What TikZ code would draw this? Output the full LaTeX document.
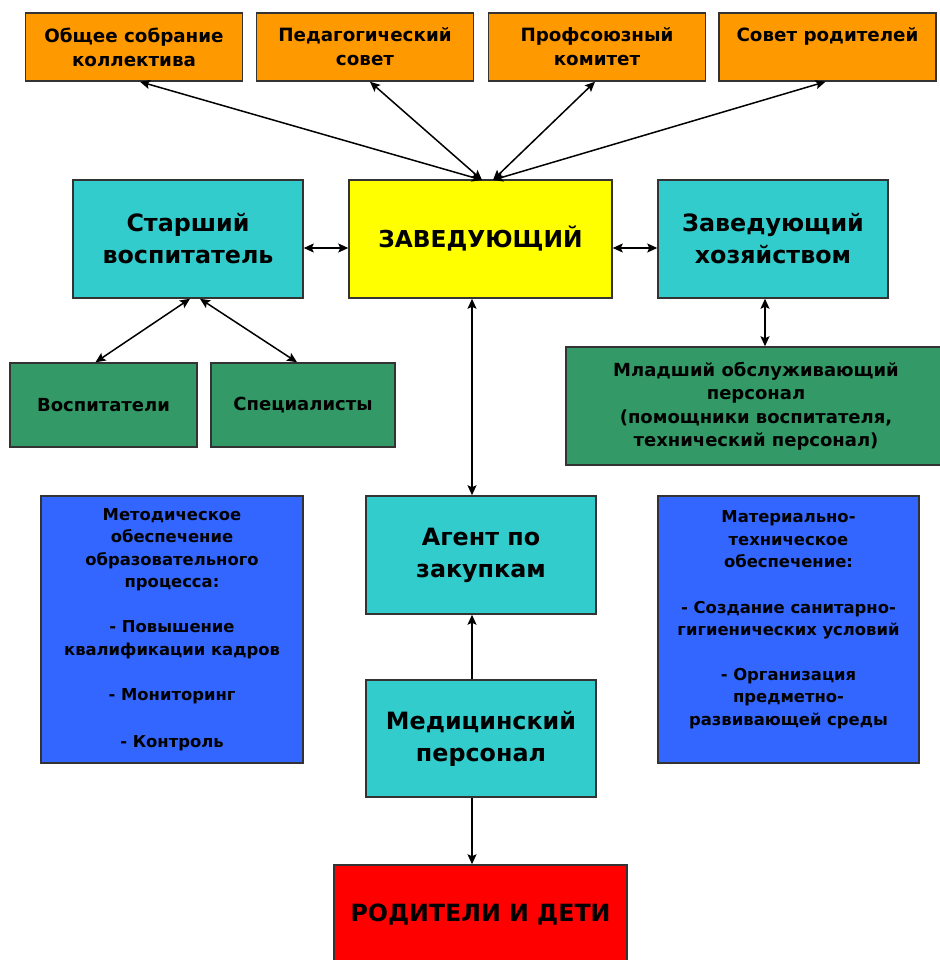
\documentclass[tikz,border=0pt]{standalone}
\usepackage{fontspec}
\setmainfont{DejaVu Sans}
\usetikzlibrary{arrows.meta}

\definecolor{orangefill}{HTML}{FF9900}
\definecolor{cyanfill}{HTML}{33CCCC}
\definecolor{yellowfill}{HTML}{FFFF00}
\definecolor{greenfill}{HTML}{339966}
\definecolor{bluefill}{HTML}{3366FF}
\definecolor{redfill}{HTML}{FF0000}

\begin{document}
\begin{tikzpicture}[x=1pt,y=-1pt,
        box/.style={draw=black!80, line width=1.5pt, align=center, inner sep=0pt},
        topbox/.style={box, fill=orangefill, minimum width=217pt, minimum height=68pt,
            font=\bfseries\fontsize{18.3}{24}\selectfont},
        headbox/.style={box, minimum width=230pt, minimum height=118pt,
            font=\bfseries\fontsize{23.8}{32}\selectfont},
        staffbox/.style={box, fill=greenfill, font=\bfseries\fontsize{18}{23.5}\selectfont},
        notebox/.style={box, fill=bluefill, minimum width=262pt, minimum height=267pt,
            font=\bfseries\fontsize{16.4}{22.5}\selectfont},
        link/.style={line width=1.5pt, {Stealth[length=10pt,width=9pt,inset=2pt]}-{Stealth[length=10pt,width=9pt,inset=2pt]}},
        onelink/.style={line width=1.5pt, -{Stealth[length=10pt,width=9pt,inset=2pt]}}]

    \path[use as bounding box, fill=white] (0,0) rectangle (939,960);

    %%top row
    \node[topbox] (obshee) at (134,47) {Общее собрание\\коллектива};
    \node[topbox] (pedsovet) at (365,47) {Педагогический\\совет};
    \node[topbox] (profkom) at (597,47) {Профсоюзный\\комитет};
    \node[topbox] (sovet) at (827.5,47) {Совет родителей\\\phantom{x}};

    %%head row
    \node[headbox, fill=cyanfill] (starshiy) at (188,239) {Старший\\воспитатель};
    \node[headbox, fill=yellowfill, minimum width=263pt, font=\bfseries\fontsize{23.3}{32}\selectfont]
        (zav) at (480.5,239) {ЗАВЕДУЮЩИЙ};
    \node[headbox, fill=cyanfill] (zavhoz) at (773,239) {Заведующий\\хозяйством};

    %%staff
    \node[staffbox, minimum width=187pt, minimum height=84pt] (vospit) at (103.5,405) {Воспитатели};
    \node[staffbox, minimum width=184pt, minimum height=84pt] (spec) at (303,405) {Специалисты};
    \node[staffbox, minimum width=380pt, minimum height=118pt] (mladshiy) at (756,406)
        {Младший обслуживающий\\персонал\\(помощники воспитателя,\\технический персонал)};

    %%middle
    \node[notebox] (metod) at (172,629.5)
        {Методическое\\обеспечение\\образовательного\\процесса:\\[22.5pt]
         - Повышение\\квалификации кадров\\[22.5pt]- Мониторинг\\[25pt]- Контроль};
    \node[headbox, fill=cyanfill] (agent) at (481,555) {Агент по\\закупкам};
    \node[notebox, minimum width=261pt] (mater) at (788.5,629.5)
        {Материально-\\техническое\\обеспечение:\\[23pt]
         - Создание санитарно-\\гигиенических условий\\[22pt]
         - Организация\\предметно-\\развивающей среды\\\phantom{x}};
    \node[headbox, fill=cyanfill, minimum height=117pt] (med) at (481,738.5) {Медицинский\\персонал};

    %%bottom
    \node[box, fill=redfill, minimum width=293pt, minimum height=100pt,
        font=\bfseries\fontsize{23.7}{28}\selectfont] (roditeli) at (480.5,915) {РОДИТЕЛИ И ДЕТИ};

    %%arrows
    \coordinate (zavtopa) at (482,180);
    \coordinate (zavtopb) at (493,180);
    \draw[link] (zavtopa) -- ([xshift=6pt]obshee.south);
    \draw[link] (zavtopa) -- ([xshift=5pt]pedsovet.south);
    \draw[link] (zavtopb) -- ([xshift=-2pt]profkom.south);
    \draw[link] (zavtopb) -- ([xshift=-2pt]sovet.south);

    \draw[link] ([yshift=-9pt]starshiy.east) -- ([yshift=-9pt]zav.west);
    \draw[link] ([yshift=-9pt]zav.east) -- ([yshift=-9pt]zavhoz.west);

    \draw[link] ([xshift=2pt]starshiy.south) -- ([xshift=-8pt]vospit.north);
    \draw[link] ([xshift=12pt]starshiy.south) -- ([xshift=-6pt]spec.north);
    \draw[link] ([xshift=-8pt]zavhoz.south) -- ([xshift=-8pt]zavhoz.south |- mladshiy.north);

    \draw[link] ([xshift=-8.5pt]zav.south) -- ([xshift=-9pt]agent.north);
    \draw[onelink] ([xshift=-9pt]med.north) -- ([xshift=-9pt]agent.south);
    \draw[onelink] ([xshift=-9pt]med.south) -- ([xshift=-9pt]med.south |- roditeli.north);
\end{tikzpicture}
\end{document}
